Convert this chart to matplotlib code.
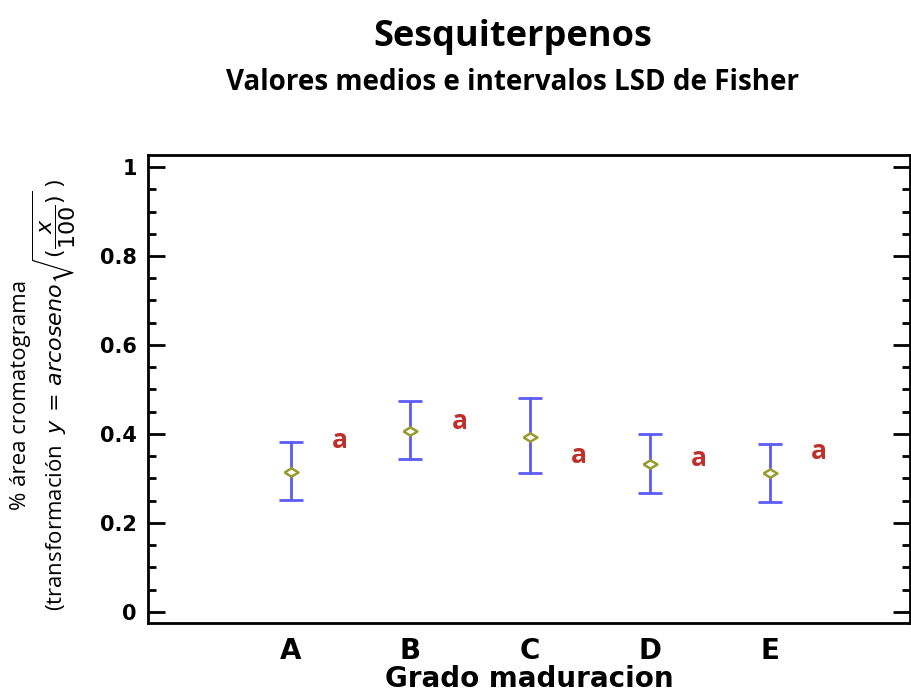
import numpy as np
import matplotlib.pyplot as plt
from matplotlib.ticker import MultipleLocator

# Medias e intervalos LSD por grado de maduracion
grados = ['A', 'B', 'C', 'D', 'E']
medias = [0.315, 0.407, 0.394, 0.333, 0.312]
lsd_sup = [0.381, 0.473, 0.481, 0.399, 0.378]
lsd_inf = [0.252, 0.343, 0.312, 0.268, 0.248]
letras = ['a', 'a', 'a', 'a', 'a']
letra_y = [0.386, 0.427, 0.351, 0.344, 0.360]

fig = plt.figure(figsize=(9.12, 6.92), dpi=100)
ax = fig.add_axes([0.1623, 0.0997, 0.8355, 0.6763])

x = np.arange(1, len(grados) + 1)
medias = np.array(medias)
err = [medias - np.array(lsd_inf), np.array(lsd_sup) - medias]

ax.errorbar(x, medias, yerr=err, fmt='none', ecolor='#5b5bf5', elinewidth=2,
            capsize=8.5, capthick=2)
# rombo achatado para la media
rombo = [(-1, 0), (0, 0.6), (1, 0), (0, -0.6), (-1, 0)]
ax.plot(x, medias, linestyle='none', marker=rombo, markersize=10,
        markerfacecolor='white', markeredgecolor='#9a9a2a', markeredgewidth=1.8)

for xi, yi, txt in zip(x, letra_y, letras):
    ax.text(xi + 0.41, yi, txt, color='#c0302a', fontsize=19, fontweight='bold',
            family='Open Sans', ha='center', va='center')

ax.set_xlim(-0.19, 6.17)
ax.set_ylim(-0.025, 1.027)
ax.set_xticks(x)
ax.set_xticklabels(grados)
ax.yaxis.set_major_locator(MultipleLocator(0.2))
ax.yaxis.set_minor_locator(MultipleLocator(0.05))
ax.set_yticks([0, 0.2, 0.4, 0.6, 0.8, 1])
ax.set_yticklabels(['0', '0.2', '0.4', '0.6', '0.8', '1'])

ax.tick_params(axis='x', length=0, pad=10, labelsize=20)
ax.tick_params(axis='y', which='major', direction='in', length=12, width=2,
               right=True, labelsize=15, pad=8)
ax.tick_params(axis='y', which='minor', direction='in', length=6, width=2,
               right=True)
for lab in ax.get_xticklabels() + ax.get_yticklabels():
    lab.set_fontweight('bold')
    lab.set_family('DejaVu Sans')

for s in ax.spines.values():
    s.set_linewidth(2)

ax.set_xlabel('Grado maduracion', fontsize=20, fontweight='bold',
              family='DejaVu Sans', labelpad=0)

# etiqueta del eje y en dos lineas (una sola caja de texto)
ylab = ('% área cromatograma\n'
        r'(transformación  $y\,=\,arcoseno\sqrt{(\dfrac{x}{100})}$ )')
fig.text(0.048, 0.43, ylab, rotation=90, fontsize=16, family='Open Sans',
         ha='center', va='center', multialignment='center', linespacing=1.0)

fig.text(0.562, 0.947, 'Sesquiterpenos', fontsize=26, fontweight='bold',
         family='Open Sans', ha='center', va='center')
fig.text(0.562, 0.881, 'Valores medios e intervalos LSD de Fisher', fontsize=20,
         fontweight='bold', family='Open Sans', ha='center', va='center')

fig.savefig('out.png', dpi=100)
